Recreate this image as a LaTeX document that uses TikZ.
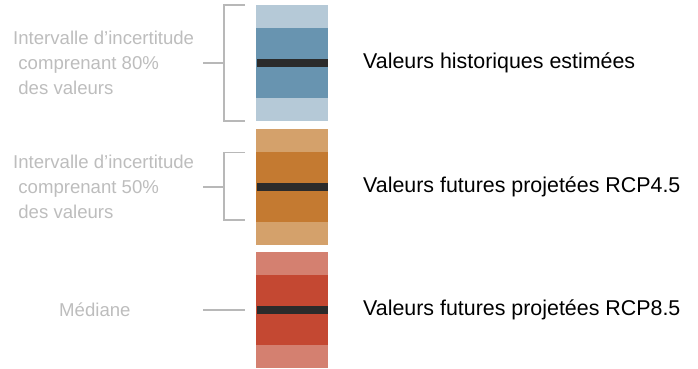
\documentclass[tikz,border=0pt]{standalone}
\usepackage{fontspec}
\setmainfont{Liberation Sans}
\definecolor{bluelight}{HTML}{B5C9D7}
\definecolor{bluedark}{HTML}{6894B0}
\definecolor{orangelight}{HTML}{D4A16B}
\definecolor{orangedark}{HTML}{C47A31}
\definecolor{redlight}{HTML}{D48070}
\definecolor{reddark}{HTML}{C44832}
\definecolor{medianc}{HTML}{2B2B2B}
\definecolor{notegray}{HTML}{BDBDBD}
\definecolor{rulegray}{HTML}{B8B8B8}
\begin{document}
\begin{tikzpicture}[x=1pt,y=-1pt,
  note/.style={text=notegray,font=\fontsize{18.6}{25}\selectfont,align=left,anchor=west,inner sep=0pt},
  legend/.style={text=black,font=\fontsize{21.4}{25}\selectfont,anchor=west,inner sep=0pt},
  rule/.style={draw=rulegray,line width=1.1pt},
  median/.style={fill=medianc}]
\useasboundingbox (0,0) rectangle (698,369);

% three stacked bars: light outer band, dark inner band, median stripe
\foreach \top/\lc/\dc [count=\i] in {5/bluelight/bluedark,128.5/orangelight/orangedark,252/redlight/reddark}{
  \fill[\lc] (256,\top) rectangle (328,\top+116);
  \fill[\dc] (256,\top+23) rectangle (328,\top+93);
  \fill[median] (256.5,\top+54) rectangle (327.5,\top+62);
}

% legend labels on the right
\node[legend] (hist) at (363,63) {Valeurs historiques estimées};
\node[legend] (rcp45) at (363,186.5) {Valeurs futures projetées RCP4.5};
\node[legend] (rcp85) at (363,310) {Valeurs futures projetées RCP8.5};

% annotations on the left
\node[note] (i80) at (13,63) {Intervalle d’incertitude\\\ comprenant 80\%\\\ des valeurs};
\node[note] (i50) at (13,187) {Intervalle d’incertitude\\\ comprenant 50\%\\\ des valeurs};
\node[note] (med) at (59,310) {Médiane};

% brackets and leader lines
\coordinate (b80t) at (245,5);
\coordinate (b80b) at (245,121);
\coordinate (b80m) at (203,63);
\draw[rule] (b80t) -| (224,121) -- (b80b);
\draw[rule] (b80m) -- (224,63);

\coordinate (b50t) at (245,152.5);
\coordinate (b50b) at (245,220);
\coordinate (b50m) at (203,187);
\draw[rule] (b50t) -| (224,220) -- (b50b);
\draw[rule] (b50m) -- (224,187);

\coordinate (mm0) at (203,310);
\coordinate (mm1) at (245,310);
\draw[rule] (mm0) -- (mm1);
\end{tikzpicture}
\end{document}
